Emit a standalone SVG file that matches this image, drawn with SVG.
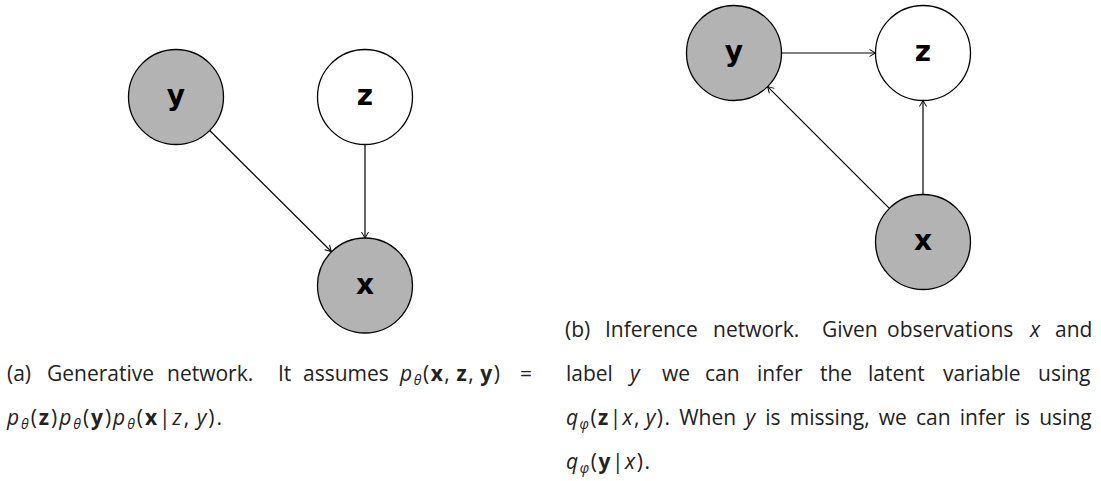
<svg xmlns="http://www.w3.org/2000/svg" width="1101" height="481" viewBox="0 0 1101 481">
<style>
.node circle{stroke:#000;stroke-width:1.3}
.obs{fill:#b3b3b3}
.lat{fill:#fff}
.lbl{font-family:"DejaVu Sans",sans-serif;font-weight:bold;font-size:28px;fill:#000;text-anchor:middle}
.edge{stroke:#000;stroke-width:1.2;fill:none;marker-end:url(#arr)}
.cap{font-family:"Open Sans","Noto Sans",sans-serif;font-size:21px;fill:#222}
.i{font-style:italic}
.b{font-weight:bold}
.s{font-size:14px;font-style:italic}
</style>
<defs>
<marker id="arr" markerUnits="userSpaceOnUse" markerWidth="10" markerHeight="10" refX="6.5" refY="4" orient="auto">
<path d="M0.5,0.5 L6.5,4 L0.5,7.5" fill="none" stroke="#000" stroke-width="1"/>
</marker>
</defs>

<!-- (a) generative network -->
<g id="a-y" class="node"><circle class="obs" cx="176" cy="97" r="47.5"/><text class="lbl" x="176" y="105">y</text></g>
<g id="a-z" class="node"><circle class="lat" cx="365" cy="97" r="47.5"/><text class="lbl" x="365" y="105">z</text></g>
<g id="a-x" class="node"><circle class="obs" cx="365" cy="285.5" r="47.5"/><text class="lbl" x="365" y="294">x</text></g>

<!-- (b) inference network -->
<g id="b-y" class="node"><circle class="obs" cx="734" cy="53" r="47.5"/><text class="lbl" x="734" y="61">y</text></g>
<g id="b-z" class="node"><circle class="lat" cx="923" cy="53" r="47.5"/><text class="lbl" x="923" y="61">z</text></g>
<g id="b-x" class="node"><circle class="obs" cx="923" cy="242" r="47.5"/><text class="lbl" x="923" y="250">x</text></g>

<g id="connectors">
<line class="edge" x1="209.7" y1="130.5" x2="331.3" y2="251.5"/>
<line class="edge" x1="365" y1="144.5" x2="365" y2="238"/>
<line class="edge" x1="781.5" y1="53" x2="875.5" y2="53"/>
<line class="edge" x1="889.4" y1="208.4" x2="767.6" y2="86.6"/>
<line class="edge" x1="923" y1="194.5" x2="923" y2="100.5"/>
</g>

<g id="caption-a" class="cap">
<text x="7" y="381">(a)</text>
<text x="47" y="381">Generative</text>
<text x="167" y="381">network.</text>
<text x="278" y="381">It</text>
<text x="303" y="381">assumes</text>
<text x="400" y="381" textLength="100" lengthAdjust="spacing"><tspan class="i">p</tspan><tspan class="s" dy="4">θ</tspan><tspan dy="-4">(</tspan><tspan class="b">x</tspan>,&#8201;<tspan class="b">z</tspan>,&#8201;<tspan class="b">y</tspan>)</text>
<text x="520" y="381">=</text>
<text x="7" y="425" textLength="215" lengthAdjust="spacing"><tspan class="i">p</tspan><tspan class="s" dy="4">θ</tspan><tspan dy="-4">(</tspan><tspan class="b">z</tspan>)<tspan class="i">p</tspan><tspan class="s" dy="4">θ</tspan><tspan dy="-4">(</tspan><tspan class="b">y</tspan>)<tspan class="i">p</tspan><tspan class="s" dy="4">θ</tspan><tspan dy="-4">(</tspan><tspan class="b">x</tspan>|<tspan class="i">z</tspan>,&#8201;<tspan class="i">y</tspan>).</text>
</g>

<g id="caption-b" class="cap">
<text x="565" y="337">(b)</text>
<text x="605" y="337">Inference</text>
<text x="713" y="337">network.</text>
<text x="822" y="337">Given</text>
<text x="887" y="337">observations</text>
<text x="1030" y="337" class="i">x</text>
<text x="1055" y="337">and</text>

<text x="566" y="381">label</text>
<text x="630" y="381" class="i">y</text>
<text x="662" y="381">we</text>
<text x="705" y="381">can</text>
<text x="757" y="381">infer</text>
<text x="820" y="381">the</text>
<text x="868" y="381">latent</text>
<text x="943" y="381">variable</text>
<text x="1038" y="381">using</text>

<text x="566" y="425" textLength="104" lengthAdjust="spacing"><tspan class="i">q</tspan><tspan class="s" dy="4">φ</tspan><tspan dy="-4">(</tspan><tspan class="b">z</tspan>|<tspan class="i">x</tspan>,&#8201;<tspan class="i">y</tspan>).</text>
<text x="679.2" y="425">When</text>
<text x="745.6" y="425" class="i">y</text>
<text x="765.3" y="425">is</text>
<text x="789.8" y="425">missing,</text>
<text x="878.7" y="425">we</text>
<text x="916" y="425">can</text>
<text x="959.8" y="425">infer</text>
<text x="1014.7" y="425">is</text>
<text x="1039.2" y="425">using</text>

<text x="566" y="469" textLength="84" lengthAdjust="spacing"><tspan class="i">q</tspan><tspan class="s" dy="4">φ</tspan><tspan dy="-4">(</tspan><tspan class="b">y</tspan>|<tspan class="i">x</tspan>).</text>
</g>
</svg>
